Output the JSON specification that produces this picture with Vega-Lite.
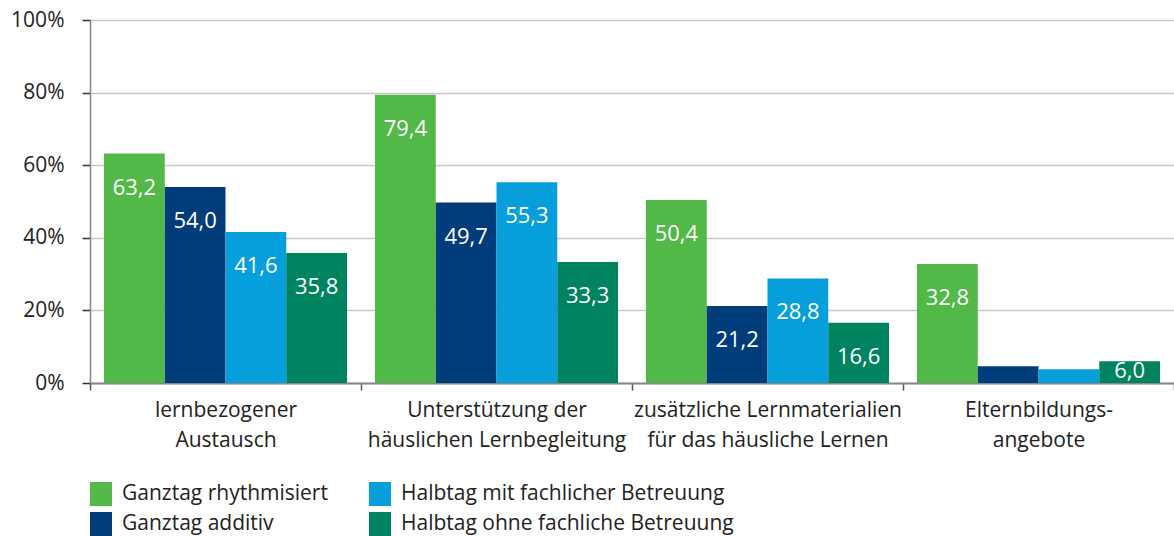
{
  "$schema": "https://vega.github.io/schema/vega-lite/v6.json",
  "width": 1084,
  "height": 363,
  "autosize": {"type": "none"},
  "padding": {"left": 90, "top": 20, "right": 0, "bottom": 153},
  "config": {
    "locale": {"number": {"decimal": ",", "thousands": ".", "grouping": [3], "currency": ["", " €"]}},
    "view": {"stroke": null},
    "font": "Open Sans"
  },
  "data": {
    "values": [
      {"category": "lernbezogener|Austausch", "type": "Ganztag rhythmisiert", "value": 63.2},
      {"category": "lernbezogener|Austausch", "type": "Ganztag additiv", "value": 54.0},
      {"category": "lernbezogener|Austausch", "type": "Halbtag mit fachlicher Betreuung", "value": 41.6},
      {"category": "lernbezogener|Austausch", "type": "Halbtag ohne fachliche Betreuung", "value": 35.8},
      {"category": "Unterstützung der|häuslichen Lernbegleitung", "type": "Ganztag rhythmisiert", "value": 79.4},
      {"category": "Unterstützung der|häuslichen Lernbegleitung", "type": "Ganztag additiv", "value": 49.7},
      {"category": "Unterstützung der|häuslichen Lernbegleitung", "type": "Halbtag mit fachlicher Betreuung", "value": 55.3},
      {"category": "Unterstützung der|häuslichen Lernbegleitung", "type": "Halbtag ohne fachliche Betreuung", "value": 33.3},
      {"category": "zusätzliche Lernmaterialien|für das häusliche Lernen", "type": "Ganztag rhythmisiert", "value": 50.4},
      {"category": "zusätzliche Lernmaterialien|für das häusliche Lernen", "type": "Ganztag additiv", "value": 21.2},
      {"category": "zusätzliche Lernmaterialien|für das häusliche Lernen", "type": "Halbtag mit fachlicher Betreuung", "value": 28.8},
      {"category": "zusätzliche Lernmaterialien|für das häusliche Lernen", "type": "Halbtag ohne fachliche Betreuung", "value": 16.6},
      {"category": "Elternbildungs-|angebote", "type": "Ganztag rhythmisiert", "value": 32.8},
      {"category": "Elternbildungs-|angebote", "type": "Ganztag additiv", "value": 4.6},
      {"category": "Elternbildungs-|angebote", "type": "Halbtag mit fachlicher Betreuung", "value": 3.8},
      {"category": "Elternbildungs-|angebote", "type": "Halbtag ohne fachliche Betreuung", "value": 6.0}
    ]
  },
  "encoding": {
    "x": {
      "field": "category",
      "type": "nominal",
      "sort": ["lernbezogener|Austausch", "Unterstützung der|häuslichen Lernbegleitung", "zusätzliche Lernmaterialien|für das häusliche Lernen", "Elternbildungs-|angebote"],
      "scale": {"paddingInner": 0, "paddingOuter": 0},
      "axis": {
        "title": null,
        "labelAngle": 0,
        "labelExpr": "split(datum.label, '|')",
        "labelFontSize": 21,
        "labelLineHeight": 30,
        "labelColor": "#222",
        "labelPadding": 9,
        "labelLimit": 400,
        "tickBand": "extent",
        "tickSize": 7,
        "tickColor": "#555",
        "tickWidth": 1.5,
        "domainColor": "#888",
        "domainWidth": 2
      }
    },
    "xOffset": {
      "field": "type",
      "type": "nominal",
      "sort": ["Ganztag rhythmisiert", "Ganztag additiv", "Halbtag mit fachlicher Betreuung", "Halbtag ohne fachliche Betreuung"],
      "scale": {"paddingInner": 0, "paddingOuter": 0.23}
    }
  },
  "layer": [
    {
      "mark": {"type": "bar"},
      "encoding": {
        "y": {
          "field": "value",
          "type": "quantitative",
          "scale": {"domain": [0, 100], "nice": false},
          "axis": {
            "title": null,
            "values": [0, 10, 20, 30, 40, 50, 60, 70, 80, 90, 100],
            "labelExpr": "datum.value % 20 === 0 ? datum.value + '%' : ''",
            "labelFontSize": 21,
            "labelColor": "#222",
            "labelPadding": 18,
            "tickSize": 8,
            "tickColor": "#333",
            "tickWidth": 1.5,
            "tickOpacity": {"condition": {"test": "datum.value % 20 !== 0", "value": 0}, "value": 1},
            "domainColor": "#888",
            "domainWidth": 1.5,
            "gridColor": "#c8c8c8",
            "gridWidth": 1.5
          }
        },
        "color": {
          "field": "type",
          "type": "nominal",
          "scale": {
            "domain": ["Ganztag rhythmisiert", "Ganztag additiv", "Halbtag mit fachlicher Betreuung", "Halbtag ohne fachliche Betreuung"],
            "range": ["#52b848", "#003d7a", "#069edb", "#00845f"]
          },
          "legend": {
            "title": null,
            "orient": "none",
            "legendX": -1,
            "legendY": 462,
            "columns": 2,
            "padding": 0,
            "symbolType": "M-0.917,-1H0.917V1H-0.917Z",
            "symbolSize": 576,
            "symbolStrokeWidth": 0,
            "symbolOpacity": 1,
            "labelFontSize": 21,
            "labelColor": "#222",
            "labelOffset": 9,
            "labelLimit": 400,
            "columnPadding": 40,
            "rowPadding": 6
          }
        }
      }
    },
    {
      "transform": [{"filter": "datum.value >= 10"}],
      "mark": {"type": "text", "baseline": "middle", "dy": 34, "color": "white", "fontSize": 22},
      "encoding": {
        "y": {"field": "value", "type": "quantitative"},
        "text": {"field": "value", "type": "quantitative", "format": ".1f"}
      }
    },
    {
      "transform": [{"filter": "datum.value >= 5 && datum.value < 10"}],
      "mark": {"type": "text", "baseline": "middle", "dy": 10, "color": "white", "fontSize": 22},
      "encoding": {
        "y": {"field": "value", "type": "quantitative"},
        "text": {"field": "value", "type": "quantitative", "format": ".1f"}
      }
    }
  ]
}
